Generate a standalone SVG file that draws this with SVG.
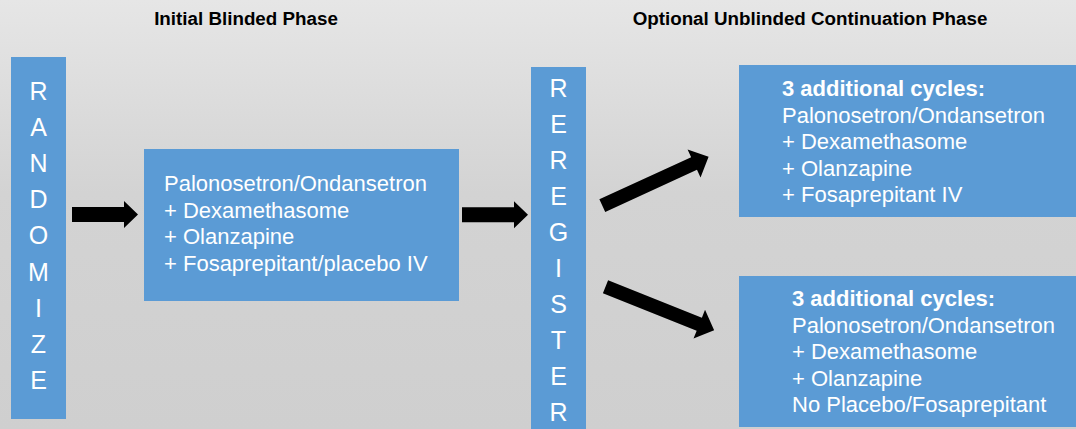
<svg xmlns="http://www.w3.org/2000/svg" width="1076" height="429" viewBox="0 0 1076 429">
<defs>
<linearGradient id="bg" x1="0" y1="0" x2="0" y2="1">
<stop offset="0" stop-color="#e6e6e6"/>
<stop offset="0.45" stop-color="#d3d3d3"/>
<stop offset="1" stop-color="#cfcfcf"/>
</linearGradient>
<path id="arr" d="M0,-7.5 H52 V-13.5 L66,0 L52,13.5 V7.5 H0 Z"/>
</defs>
<style>
.box{fill:#5b9bd5}
.t{font-family:"Liberation Sans",Arial,sans-serif;font-size:22px;fill:#ffffff}
.b{font-weight:bold}
.v{font-family:"Liberation Sans",Arial,sans-serif;font-size:25px;fill:#ffffff;text-anchor:middle}
.h{font-family:"Liberation Sans",Arial,sans-serif;font-size:18.8px;font-weight:bold;fill:#000000;text-anchor:middle}
.a{fill:#000000}
</style>
<rect x="0" y="0" width="1076" height="429" fill="url(#bg)"/>
<text class="h" x="246" y="25">Initial Blinded Phase</text>
<text class="h" x="810" y="25">Optional Unblinded Continuation Phase</text>

<g id="randomize">
<rect class="box" x="11" y="57" width="55" height="362"/>
<text class="v" x="38.5" y="100">R</text>
<text class="v" x="38.5" y="136">A</text>
<text class="v" x="38.5" y="172">N</text>
<text class="v" x="38.5" y="208">D</text>
<text class="v" x="38.5" y="244">O</text>
<text class="v" x="38.5" y="281">M</text>
<text class="v" x="38.5" y="317">I</text>
<text class="v" x="38.5" y="353">Z</text>
<text class="v" x="38.5" y="389">E</text>
</g>

<g id="blinded">
<rect class="box" x="144" y="149" width="315" height="152"/>
<text class="t" x="164" y="191">Palonosetron/Ondansetron</text>
<text class="t" x="164" y="217.5">+ Dexamethasome</text>
<text class="t" x="164" y="244">+ Olanzapine</text>
<text class="t" x="164" y="270.5">+ Fosaprepitant/placebo IV</text>
</g>

<g id="reregister">
<rect class="box" x="531" y="67" width="55" height="362"/>
<text class="v" x="558.5" y="97">R</text>
<text class="v" x="558.5" y="133">E</text>
<text class="v" x="558.5" y="169">R</text>
<text class="v" x="558.5" y="205">E</text>
<text class="v" x="558.5" y="241">G</text>
<text class="v" x="558.5" y="277">I</text>
<text class="v" x="558.5" y="312.5">S</text>
<text class="v" x="558.5" y="348.5">T</text>
<text class="v" x="558.5" y="384.5">E</text>
<text class="v" x="558.5" y="420.5">R</text>
</g>

<g id="continuation-fosaprepitant">
<rect class="box" x="739" y="65" width="337" height="152"/>
<text class="t b" x="782" y="96">3 additional cycles:</text>
<text class="t" x="782" y="122.5">Palonosetron/Ondansetron</text>
<text class="t" x="782" y="149">+ Dexamethasome</text>
<text class="t" x="782" y="175.5">+ Olanzapine</text>
<text class="t" x="782" y="202">+ Fosaprepitant IV</text>
</g>

<g id="continuation-no-fosaprepitant">
<rect class="box" x="739" y="276" width="337" height="151"/>
<text class="t b" x="792" y="306">3 additional cycles:</text>
<text class="t" x="792" y="332.5">Palonosetron/Ondansetron</text>
<text class="t" x="792" y="359">+ Dexamethasome</text>
<text class="t" x="792" y="385.5">+ Olanzapine</text>
<text class="t" x="792" y="412">No Placebo/Fosaprepitant</text>
</g>

<g id="connectors">
<use href="#arr" class="a" transform="translate(72,214.5)"/>
<use href="#arr" class="a" transform="translate(462,214.7)"/>
<path class="a" transform="translate(602.3,205.7) rotate(-24.7)" d="M0,-7 H101 V-15.5 L117,0 L101,15.5 V7 H0 Z"/>
<path class="a" transform="translate(605.5,286.7) rotate(21.8)" d="M0,-7 H101 V-15.5 L117,0 L101,15.5 V7 H0 Z"/>
</g>
</svg>
